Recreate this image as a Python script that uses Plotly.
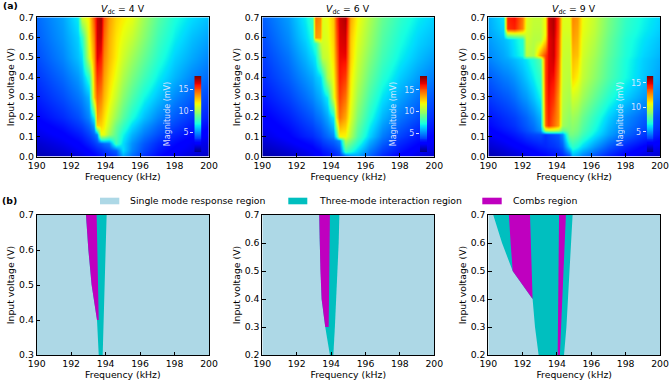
import numpy as np
import plotly.graph_objects as go

FONT = "DejaVu Sans"
W, H = 669, 381

# ------------------------------------------------------------------
# (a) magnitude maps (mV)
# ------------------------------------------------------------------
vdc_values = [4, 6, 9]

freq_a1 = [190, 191.5, 192.4, 192.6, 193.0, 193.3, 193.5, 193.7, 193.9, 194.2,
           194.6, 195.0, 195.5, 196.2, 197.0, 198.0, 199.0, 200]
volt_a1 = [0.0, 0.03, 0.065, 0.11, 0.16, 0.2, 0.3, 0.4, 0.5, 0.6, 0.7]
mag_a1 = [
    [1.2, 1.6, 1.9, 2.0, 2.3, 2.5, 2.7, 2.9, 3.1, 3.3, 3.6, 5.5, 4.5, 3.5, 2.8, 2.2, 1.8, 1.5],
    [1.5, 1.9, 2.3, 2.4, 2.7, 3.0, 3.2, 3.4, 3.6, 3.9, 4.3, 6.5, 5.0, 3.9, 3.1, 2.5, 2.1, 1.8],
    [1.7, 2.2, 2.6, 2.8, 3.2, 3.6, 3.9, 4.2, 4.5, 4.8, 8.0, 6.5, 5.2, 4.2, 3.4, 2.8, 2.3, 2.0],
    [2.1, 2.6, 3.1, 3.3, 3.8, 4.4, 5.0, 11.5, 11.5, 10.0, 8.5, 7.0, 5.8, 4.8, 4.0, 3.3, 2.8, 2.4],
    [2.4, 3.0, 3.6, 3.8, 4.4, 5.5, 12.5, 12.5, 12.0, 10.8, 9.0, 7.8, 6.5, 5.4, 4.5, 3.8, 3.2, 2.8],
    [2.7, 3.4, 4.0, 4.3, 5.0, 7.0, 13.5, 13.0, 12.3, 11.2, 9.8, 8.5, 7.2, 6.0, 5.0, 4.2, 3.6, 3.2],
    [3.2, 4.0, 4.7, 5.0, 5.8, 12.5, 14.5, 14.0, 13.0, 12.0, 10.8, 9.5, 8.3, 7.0, 6.0, 5.0, 4.3, 3.8],
    [3.6, 4.5, 5.3, 5.8, 7.5, 13.0, 15.5, 15.0, 13.5, 12.5, 11.5, 10.3, 9.2, 8.0, 6.8, 5.8, 5.0, 4.5],
    [4.0, 5.0, 6.0, 6.5, 11.0, 13.5, 16.5, 16.0, 14.0, 13.0, 12.0, 11.0, 10.0, 8.8, 7.5, 6.3, 5.6, 5.0],
    [4.3, 5.3, 6.3, 7.5, 11.8, 14.0, 16.8, 17.0, 14.5, 13.2, 12.2, 11.5, 10.8, 9.5, 8.0, 6.8, 6.0, 5.5],
    [4.5, 5.5, 6.8, 11.0, 12.0, 14.8, 16.8, 17.5, 15.0, 13.5, 12.5, 12.0, 11.5, 10.0, 8.5, 7.2, 6.5, 6.0],
]

freq_a2 = [190, 191.5, 192.5, 192.9, 193.1, 193.35, 193.5, 193.8, 194.1, 194.3,
           194.5, 194.8, 195.1, 195.5, 196.2, 197.0, 198.0, 199.0, 200]
volt_a2 = [0.0, 0.025, 0.08, 0.1, 0.2, 0.3, 0.4, 0.5, 0.57, 0.6, 0.7]
mag_a2 = [
    [1.3, 1.7, 2.1, 2.3, 2.5, 2.7, 2.9, 3.1, 3.3, 3.5, 3.7, 4.2, 5.0, 5.5, 4.5, 3.5, 2.7, 2.2, 1.8],
    [1.5, 2.0, 2.4, 2.6, 2.8, 3.0, 3.2, 3.4, 3.7, 3.9, 4.2, 8.0, 7.5, 6.5, 5.0, 3.9, 3.1, 2.5, 2.1],
    [2.0, 2.6, 3.1, 3.3, 3.5, 3.8, 4.0, 4.3, 4.6, 4.9, 5.3, 10.5, 9.5, 8.0, 6.0, 4.7, 3.7, 3.1, 2.6],
    [2.2, 2.8, 3.4, 3.6, 3.8, 4.1, 4.3, 4.7, 5.2, 7.5, 12.0, 12.0, 10.5, 8.5, 6.5, 5.0, 4.0, 3.3, 2.8],
    [2.7, 3.4, 4.1, 4.4, 4.7, 5.0, 5.2, 5.8, 7.0, 12.5, 14.5, 13.5, 11.5, 9.5, 7.5, 6.0, 4.9, 4.2, 3.6],
    [3.2, 4.0, 4.8, 5.2, 5.5, 5.9, 6.2, 7.0, 11.5, 13.5, 15.5, 14.5, 12.0, 10.2, 8.3, 6.8, 5.7, 4.9, 4.3],
    [3.6, 4.5, 5.4, 5.8, 6.2, 6.6, 7.5, 10.5, 12.0, 14.0, 16.2, 15.5, 12.3, 10.8, 9.0, 7.6, 6.4, 5.6, 5.0],
    [3.9, 4.9, 6.0, 6.6, 7.0, 9.5, 10.8, 11.2, 12.5, 14.5, 16.5, 16.5, 12.8, 11.2, 9.6, 8.2, 7.0, 6.2, 5.6],
    [4.1, 5.2, 6.4, 7.2, 7.8, 10.8, 11.2, 11.5, 12.7, 14.9, 16.7, 16.9, 12.9, 11.5, 10.0, 8.5, 7.3, 6.5, 6.0],
    [4.2, 5.3, 6.6, 7.4, 13.8, 13.5, 11.3, 11.6, 12.8, 15.0, 16.8, 17.0, 13.0, 11.6, 10.1, 8.6, 7.4, 6.6, 6.1],
    [4.5, 5.6, 7.0, 8.0, 14.5, 14.0, 11.5, 11.8, 13.0, 15.5, 17.0, 17.5, 13.5, 12.0, 10.5, 9.0, 7.8, 7.0, 6.5],
]

freq_a3 = [190, 190.9, 191.1, 191.5, 192.0, 192.2, 192.6, 193.0, 193.3, 193.5, 193.8,
           194.1, 194.3, 194.7, 194.9, 195.2, 195.5, 196.2, 197.0, 198.0, 199.0, 200]
volt_a3 = [0.0, 0.05, 0.11, 0.135, 0.16, 0.2, 0.3, 0.4, 0.49, 0.51, 0.59, 0.615, 0.645, 0.7]
mag_a3 = [
    [1.5, 1.8, 1.9, 2.0, 2.2, 2.3, 2.5, 2.7, 2.8, 2.9, 3.0, 3.1, 3.3, 3.8, 5.5, 5.2, 4.7, 4.0, 3.3, 2.7, 2.2, 1.9],
    [2.0, 2.3, 2.4, 2.6, 2.8, 2.9, 3.1, 3.3, 3.4, 3.5, 3.6, 3.8, 4.2, 6.5, 7.2, 6.8, 6.2, 5.2, 4.2, 3.4, 2.8, 2.4],
    [2.5, 2.9, 3.0, 3.2, 3.5, 3.7, 3.9, 4.0, 3.6, 3.8, 4.0, 4.2, 5.0, 8.5, 8.5, 8.2, 7.5, 6.4, 5.3, 4.4, 3.7, 3.2],
    [2.7, 3.1, 3.2, 3.4, 3.8, 4.0, 4.4, 5.0, 9.5, 9.8, 9.8, 9.5, 8.0, 8.7, 8.8, 8.5, 7.8, 6.7, 5.5, 4.6, 3.9, 3.4],
    [2.9, 3.3, 3.4, 3.6, 4.0, 4.2, 4.6, 5.3, 13.3, 14.2, 13.3, 12.3, 9.3, 8.8, 9.0, 8.7, 8.0, 6.9, 5.7, 4.8, 4.1, 3.6],
    [3.1, 3.5, 3.6, 3.8, 4.2, 4.4, 4.9, 5.6, 13.5, 14.5, 13.5, 12.5, 9.5, 9.0, 9.3, 9.0, 8.3, 7.2, 6.0, 5.0, 4.3, 3.8],
    [3.7, 4.1, 4.2, 4.5, 5.0, 5.2, 5.8, 6.6, 13.8, 14.8, 14.2, 12.5, 9.8, 9.5, 10.3, 10.0, 9.3, 8.2, 7.0, 6.0, 5.2, 4.7],
    [4.2, 4.7, 4.8, 5.1, 5.6, 5.9, 6.5, 7.3, 14.0, 15.0, 14.8, 13.0, 10.0, 9.8, 11.5, 11.0, 10.0, 9.0, 7.8, 6.7, 5.9, 5.3],
    [4.8, 5.3, 5.4, 5.7, 6.1, 6.4, 7.0, 8.0, 14.0, 15.0, 15.3, 13.4, 10.0, 10.0, 11.9, 11.6, 10.2, 9.3, 8.0, 6.8, 6.0, 5.5],
    [4.9, 5.4, 5.6, 6.2, 6.8, 9.8, 9.6, 12.5, 14.0, 15.0, 15.4, 13.5, 10.1, 10.0, 12.0, 11.8, 10.3, 9.4, 8.1, 6.9, 6.1, 5.6],
    [5.2, 5.7, 5.9, 6.4, 7.0, 10.2, 9.7, 9.8, 11.5, 15.0, 15.5, 13.7, 10.2, 10.2, 12.4, 12.1, 10.5, 9.7, 8.3, 7.0, 6.3, 5.8],
    [5.3, 5.9, 9.5, 9.8, 10.0, 10.3, 9.8, 9.8, 11.0, 15.1, 15.6, 13.8, 10.3, 10.3, 12.5, 12.2, 10.6, 9.8, 8.4, 7.1, 6.4, 5.9],
    [5.4, 6.1, 14.2, 14.5, 12.8, 10.4, 9.9, 9.9, 11.0, 15.2, 15.7, 13.9, 10.4, 10.4, 12.6, 12.3, 10.7, 9.9, 8.5, 7.2, 6.5, 6.0],
    [5.5, 6.3, 14.5, 14.8, 13.0, 10.5, 10.0, 10.0, 11.0, 15.3, 15.8, 14.0, 10.5, 10.5, 12.8, 12.5, 10.8, 10.0, 8.6, 7.3, 6.6, 6.1],
]

mag_ranges = [(0.5, 18.0), (0.7, 18.2), (0.9, 16.4)]
cbar_ticks = [5, 10, 15]

# ------------------------------------------------------------------
# (b) region maps: boundaries (kHz) per input voltage (V)
# ------------------------------------------------------------------
freq_range = [190, 200]
volt_range_b = [(0.3, 0.7), (0.2, 0.7), (0.2, 0.7)]

volt_three_b1 = [0.3, 0.4, 0.5, 0.6, 0.7]
three_left_b1 = [193.6, 193.5, 193.19, 193.0, 192.86]
three_right_b1 = [193.83, 193.88, 193.95, 194.0, 194.06]
volt_comb_b1 = [[0.4, 0.45, 0.5, 0.6, 0.7]]
comb_left_b1 = [[193.5, 193.35, 193.19, 193.0, 192.86]]
comb_right_b1 = [[193.6, 193.57, 193.55, 193.52, 193.48]]

volt_three_b2 = [0.2, 0.3, 0.4, 0.5, 0.6, 0.7]
three_left_b2 = [193.93, 193.66, 193.45, 193.38, 193.34, 193.31]
three_right_b2 = [194.13, 194.22, 194.32, 194.38, 194.44, 194.48]
volt_comb_b2 = [[0.3, 0.4, 0.5, 0.6, 0.7]]
comb_left_b2 = [[193.66, 193.45, 193.38, 193.34, 193.31]]
comb_right_b2 = [[193.86, 193.88, 193.9, 193.92, 193.93]]

volt_three_b3 = [0.2, 0.3, 0.4, 0.5, 0.6, 0.7]
three_left_b3 = [192.93, 192.72, 192.58, 191.42, 190.8, 190.29]
three_right_b3 = [194.41, 194.55, 194.66, 194.75, 194.83, 194.91]
volt_comb_b3 = [[0.4, 0.5, 0.6, 0.7], [0.2, 0.7]]
comb_left_b3 = [[192.58, 191.42, 191.3, 191.2], [194.04, 194.12]]
comb_right_b3 = [[192.58, 192.52, 192.47, 192.43], [194.17, 194.52]]

region_names = ["Single mode response region", "Three-mode interaction region", "Combs region"]
region_colors = ["#ADD8E6", "#00BFBF", "#BF00BF"]

# ------------------------------------------------------------------
# styling / layout
# ------------------------------------------------------------------
jet = [
    [0.0, "rgb(0,0,128)"], [0.11, "rgb(0,0,255)"], [0.125, "rgb(0,0,255)"],
    [0.34, "rgb(0,219,255)"], [0.35, "rgb(0,229,246)"], [0.375, "rgb(21,255,226)"],
    [0.64, "rgb(239,255,8)"], [0.65, "rgb(247,245,0)"], [0.66, "rgb(255,236,0)"],
    [0.89, "rgb(255,19,0)"], [0.91, "rgb(232,0,0)"], [1.0, "rgb(128,0,0)"],
]

panel_x = [(36.7, 209.0), (262.3, 434.3), (488.3, 660.0)]
top_y = (17.3, 156.7)
bot_y = (215.0, 355.0)
cbar_x = [(194.3, 201.7), (420.0, 427.3), (646.7, 653.3)]
cbar_y = (76.0, 152.0)


def dom_x(a, b):
    return [a / W, b / W]


def dom_y(top, bottom):
    return [1 - bottom / H, 1 - top / H]


TXT = dict(family=FONT, size=9.3, color="black")
CB_TXT = dict(family=FONT, size=8, color="rgba(235,235,255,0.9)")

fig = go.Figure()
layout = dict(
    width=W, height=H, margin=dict(l=0, r=0, t=0, b=0, pad=0),
    paper_bgcolor="white", plot_bgcolor="rgba(0,0,0,0)",
    font=TXT, showlegend=False, annotations=[], shapes=[],
)


def axis_style(**kw):
    d = dict(showline=True, linecolor="black", linewidth=1, mirror=True,
             ticks="inside", ticklen=3.5, tickwidth=1, tickcolor="black",
             tickfont=TXT, showgrid=False, zeroline=False, automargin=False)
    d.update(kw)
    return d


heat = [(freq_a1, volt_a1, mag_a1), (freq_a2, volt_a2, mag_a2), (freq_a3, volt_a3, mag_a3)]
regions = [
    (volt_three_b1, three_left_b1, three_right_b1, volt_comb_b1, comb_left_b1, comb_right_b1),
    (volt_three_b2, three_left_b2, three_right_b2, volt_comb_b2, comb_left_b2, comb_right_b2),
    (volt_three_b3, three_left_b3, three_right_b3, volt_comb_b3, comb_left_b3, comb_right_b3),
]


def sx(n):
    return "x" if n == 1 else f"x{n}"


def sy(n):
    return "y" if n == 1 else f"y{n}"


def kx(n):
    return "xaxis" if n == 1 else f"xaxis{n}"


def ky(n):
    return "yaxis" if n == 1 else f"yaxis{n}"


for i in range(3):
    nt, nb, nc = i + 1, i + 4, i + 7

    # ---- (a) heatmap ----
    f, v, m = heat[i]
    zmin, zmax = mag_ranges[i]
    fig.add_trace(go.Heatmap(x=f, y=v, z=m, zsmooth="best", colorscale=jet,
                             zmin=zmin, zmax=zmax, showscale=False,
                             xaxis=sx(nt), yaxis=sy(nt)))
    layout[kx(nt)] = axis_style(domain=dom_x(*panel_x[i]), anchor=sy(nt), range=freq_range,
                                tick0=190, dtick=2,
                                title=dict(text="Frequency (kHz)", font=TXT, standoff=2))
    layout[ky(nt)] = axis_style(domain=dom_y(*top_y), anchor=sx(nt), range=[0, 0.7],
                                tick0=0, dtick=0.1, tickformat=".1f",
                                title=dict(text="Input voltage (V)", font=TXT, standoff=2))

    # colour bar drawn as a small heatmap on its own axes
    cb = np.linspace(zmin, zmax, 80)
    fig.add_trace(go.Heatmap(x=[0, 1], y=cb, z=[[c, c] for c in cb], zsmooth="best",
                             colorscale=jet, zmin=zmin, zmax=zmax, showscale=False,
                             xaxis=sx(nc), yaxis=sy(nc), hoverinfo="skip"))
    layout[kx(nc)] = dict(domain=dom_x(*cbar_x[i]), anchor=sy(nc), range=[0, 1],
                          showticklabels=False, ticks="", showline=False, showgrid=False,
                          zeroline=False, automargin=False)
    layout[ky(nc)] = dict(domain=dom_y(*cbar_y), anchor=sx(nc), range=[zmin, zmax], side="left",
                          tickvals=cbar_ticks, ticks="outside", ticklen=3, tickwidth=1,
                          tickcolor="rgba(255,255,255,0.85)", showline=False, showgrid=False,
                          zeroline=False, automargin=False, tickfont=CB_TXT,
                          title=dict(text="Magnitude (mV)", standoff=6, font=CB_TXT))

    # ---- (b) regions ----
    vlo, vhi = volt_range_b[i]
    fig.add_trace(go.Scatter(x=[freq_range[0], freq_range[1], freq_range[1], freq_range[0]],
                             y=[vlo, vlo, vhi, vhi], fill="toself", mode="lines",
                             line=dict(width=0), fillcolor=region_colors[0],
                             name=region_names[0], hoverinfo="skip",
                             xaxis=sx(nb), yaxis=sy(nb)))
    vt, tl, tr, vcs, cls, crs = regions[i]
    fig.add_trace(go.Scatter(x=list(tl) + list(tr)[::-1], y=list(vt) + list(vt)[::-1],
                             fill="toself", mode="lines", line=dict(width=0),
                             fillcolor=region_colors[1], name=region_names[1],
                             hoverinfo="skip", xaxis=sx(nb), yaxis=sy(nb)))
    for vc, cl, cr in zip(vcs, cls, crs):
        fig.add_trace(go.Scatter(x=list(cl) + list(cr)[::-1], y=list(vc) + list(vc)[::-1],
                                 fill="toself", mode="lines", line=dict(width=0),
                                 fillcolor=region_colors[2], name=region_names[2],
                                 hoverinfo="skip", xaxis=sx(nb), yaxis=sy(nb)))
    layout[kx(nb)] = axis_style(domain=dom_x(*panel_x[i]), anchor=sy(nb), range=freq_range,
                                tick0=190, dtick=2,
                                title=dict(text="Frequency (kHz)", font=TXT, standoff=2))
    layout[ky(nb)] = axis_style(domain=dom_y(*bot_y), anchor=sx(nb), range=[vlo, vhi],
                                tick0=0, dtick=0.1, tickformat=".1f",
                                title=dict(text="Input voltage (V)", font=TXT, standoff=2))

    # panel title
    cx = (panel_x[i][0] + panel_x[i][1]) / 2 / W
    layout["annotations"].append(dict(
        xref="paper", yref="paper", x=cx, y=1 - 9.5 / H, xanchor="center", yanchor="middle",
        text=f"<i>V</i><sub>dc</sub> = {vdc_values[i]} V", showarrow=False, font=TXT))

# panel letters
layout["annotations"].append(dict(xref="paper", yref="paper", x=1 / W, y=1 - 5.5 / H,
                                  xanchor="left", yanchor="middle", text="<b>(a)</b>",
                                  showarrow=False, font=TXT))
layout["annotations"].append(dict(xref="paper", yref="paper", x=0 / W, y=1 - 201 / H,
                                  xanchor="left", yanchor="middle", text="<b>(b)</b>",
                                  showarrow=False, font=TXT))

# legend for (b)
legend_patch_x = [(100.0, 119.3), (288.3, 307.3), (482.3, 501.7)]
legend_text_x = [128.3, 316.7, 511.0]
for k in range(3):
    layout["shapes"].append(dict(type="rect", xref="paper", yref="paper",
                                 x0=legend_patch_x[k][0] / W, x1=legend_patch_x[k][1] / W,
                                 y0=1 - 204.3 / H, y1=1 - 197.7 / H,
                                 fillcolor=region_colors[k], line=dict(width=0)))
    layout["annotations"].append(dict(xref="paper", yref="paper", x=legend_text_x[k] / W,
                                      y=1 - 201 / H, xanchor="left", yanchor="middle",
                                      text=region_names[k], showarrow=False, font=TXT))

fig.update_layout(**layout)
fig.write_html("out.html", config={"displayModeBar": False},
               post_script="document.body.style.margin='0';document.body.style.overflow='hidden';")
